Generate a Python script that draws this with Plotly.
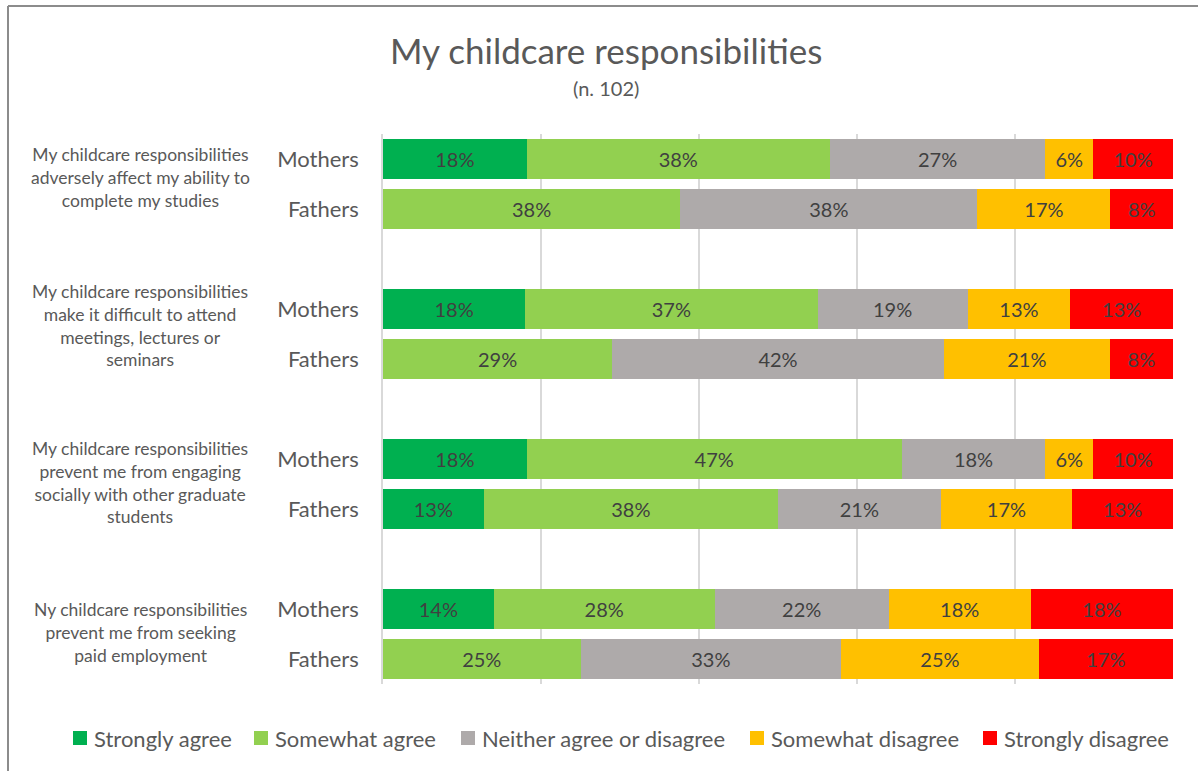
import plotly.graph_objects as go

# ---- data ----
questions = [
    "My childcare responsibilities<br>adversely affect my ability to<br>complete my studies",
    "My childcare responsibilities<br>make it difficult to attend<br>meetings, lectures or<br>seminars",
    "My childcare responsibilities<br>prevent me from engaging<br>socially with other graduate<br>students",
    "Ny childcare responsibilities<br>prevent me from seeking<br>paid employment",
]
groups = ["Mothers", "Fathers"]
responses = ["Strongly agree", "Somewhat agree", "Neither agree or disagree",
             "Somewhat disagree", "Strongly disagree"]
colors = ["#00B050", "#92D050", "#AEAAAA", "#FFC000", "#FF0000"]

# values per question: [Mothers, Fathers] each with 5 response percentages
q1_mothers = [18, 38, 27, 6, 10]
q1_fathers = [0, 38, 38, 17, 8]
q2_mothers = [18, 37, 19, 13, 13]
q2_fathers = [0, 29, 42, 21, 8]
q3_mothers = [18, 47, 18, 6, 10]
q3_fathers = [13, 38, 21, 17, 13]
q4_mothers = [14, 28, 22, 18, 18]
q4_fathers = [0, 25, 33, 25, 17]

rows = [q1_mothers, q1_fathers, q2_mothers, q2_fathers,
        q3_mothers, q3_fathers, q4_mothers, q4_fathers]

# y positions: each question occupies 3 slots (Mothers, Fathers, gap)
ypos = []
ylabels = []
for qi in range(len(questions)):
    for gi, g in enumerate(groups):
        ypos.append(qi * 3 + gi)
        ylabels.append(g)

FONT = "Lato"
TXT = "#404040"
LBL = "#595959"

W, H = 1198, 771
L, R, T, B = 383, 25, 134, 87
PW, PH = W - L - R, H - T - B

# layout helpers (styling / placement only)
label_yshift = [7, 9, 2, 2]
legend_px = [73, 254, 461, 750, 983]   # left edge of each legend swatch
legend_py = 738
sw = 14


def px_x(px):
    return (px - L) / PW


def px_y(py):
    return (H - B - py) / PH


fig = go.Figure()
for ri, (resp, col) in enumerate(zip(responses, colors)):
    vals = [r[ri] for r in rows]
    texts = [f"{v}%" if v > 0 else "" for v in vals]
    fig.add_trace(go.Bar(
        x=vals, y=ypos, orientation="h", name=resp,
        marker=dict(color=col, line=dict(width=0)),
        text=texts, textposition="inside", insidetextanchor="middle",
        textfont=dict(family=FONT, size=20, color=TXT),
        width=0.8, hoverinfo="skip", showlegend=False,
    ))

fig.update_layout(
    barmode="stack", barnorm="percent",
    width=W, height=H,
    margin=dict(l=L, r=R, t=T, b=B, autoexpand=False),
    paper_bgcolor="white", plot_bgcolor="white",
    font=dict(family=FONT, color=LBL),
    uniformtext=dict(minsize=10, mode="show"),
    showlegend=False,
)
fig.update_xaxes(range=[0, 100], dtick=20, showticklabels=False,
                 showgrid=True, gridcolor="#D9D9D9", gridwidth=1.5,
                 zeroline=False, showline=False, fixedrange=True)
fig.update_yaxes(range=[10.5, -0.5], tickvals=ypos, ticktext=ylabels,
                 tickfont=dict(family=FONT, size=22, color=LBL),
                 ticks="outside", ticklen=18, tickcolor="rgba(0,0,0,0)",
                 showgrid=False, zeroline=False,
                 showline=True, linecolor="#D9D9D9", linewidth=1.5)

# question labels
for qi, q in enumerate(questions):
    fig.add_annotation(x=px_x(140), xref="paper", xanchor="center",
                       y=qi * 3 + 0.5, yref="y", yanchor="middle",
                       yshift=label_yshift[qi],
                       text=q, showarrow=False, align="center",
                       font=dict(family=FONT, size=17.5, color=LBL))

# title
fig.add_annotation(x=px_x(606), xref="paper", xanchor="center",
                   y=px_y(50), yref="paper", yanchor="middle",
                   text="My childcare responsibilities", showarrow=False,
                   font=dict(family=FONT, size=35, color=LBL))
fig.add_annotation(x=px_x(606), xref="paper", xanchor="center",
                   y=px_y(88), yref="paper", yanchor="middle",
                   text="(n. 102)", showarrow=False,
                   font=dict(family=FONT, size=20, color=LBL))

# legend (drawn manually so it stays on one row)
for resp, col, lx in zip(responses, colors, legend_px):
    fig.add_shape(type="rect", xref="paper", yref="paper",
                  x0=px_x(lx), x1=px_x(lx + sw),
                  y0=px_y(legend_py + sw / 2), y1=px_y(legend_py - sw / 2),
                  fillcolor=col, line=dict(width=0))
    fig.add_annotation(x=px_x(lx + sw + 5), xref="paper", xanchor="left",
                       y=px_y(legend_py), yref="paper", yanchor="middle",
                       text=resp, showarrow=False,
                       font=dict(family=FONT, size=22, color=LBL))

# chart frame (top and left edges visible)
fig.add_shape(type="line", xref="paper", yref="paper",
              x0=px_x(8), x1=px_x(W + 5), y0=px_y(6), y1=px_y(6),
              line=dict(color="#8C8C8C", width=2))
fig.add_shape(type="line", xref="paper", yref="paper",
              x0=px_x(8), x1=px_x(8), y0=px_y(6), y1=px_y(H + 5),
              line=dict(color="#8C8C8C", width=2))

fig.write_html("out.html", config={"displayModeBar": False})
